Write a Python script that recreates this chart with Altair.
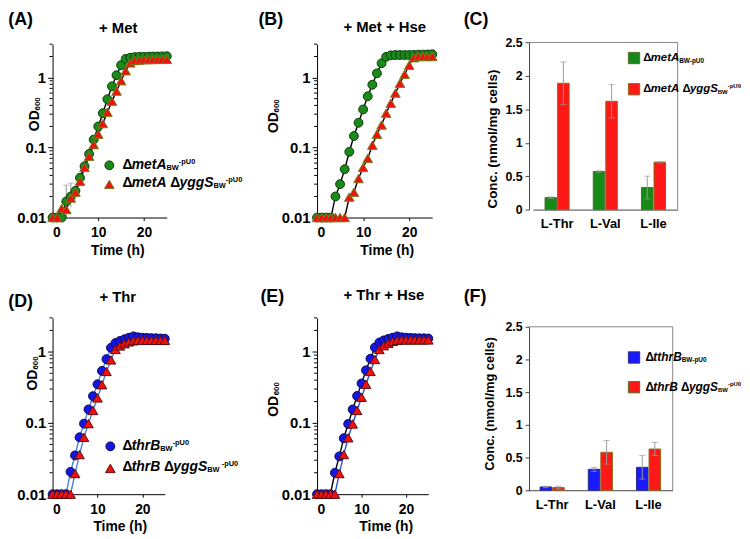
import altair as alt
import pandas as pd

FONT = "Liberation Sans"

# ---------------- data ----------------
hours = [0, 1, 2, 3, 4, 5, 6, 7, 8, 9, 10, 11, 12, 13, 14, 15, 16, 17, 18, 19, 20, 21, 22, 23, 24, 25]

A_metA = [0.010, 0.010, 0.010, 0.017, 0.020, 0.024, 0.037, 0.054, 0.081, 0.13, 0.20, 0.31, 0.49,
          0.75, 1.08, 1.50, 1.85, 1.92, 1.96, 1.98, 1.98, 1.99, 2.00, 2.00, 2.01, 2.02]
A_metA_yggS = [0.010, 0.010, 0.0135, 0.013, 0.019, 0.023, 0.033, 0.052, 0.075, 0.11, 0.155, 0.22, 0.32,
               0.46, 0.64, 0.90, 1.25, 1.62, 1.75, 1.78, 1.80, 1.81, 1.81, 1.82, 1.82, 1.82]
A_err_hours = [3, 4]
A_err_lo = [0.010, 0.014]
A_err_hi = [0.029, 0.031]

B_metA = [0.010, 0.010, 0.010, 0.010, 0.020, 0.030, 0.049, 0.087, 0.146, 0.226, 0.35, 0.54, 0.79,
          1.15, 1.60, 1.98, 2.08, 2.10, 2.10, 2.10, 2.10, 2.11, 2.12, 2.13, 2.14, 2.15]
B_metA_yggS = [0.010, 0.010, 0.010, 0.010, 0.010, 0.010, 0.010, 0.0196, 0.023, 0.036, 0.052, 0.070, 0.108,
               0.155, 0.21, 0.31, 0.43, 0.60, 0.83, 1.11, 1.50, 1.92, 2.00, 2.00, 2.00, 2.00]

D_thrB = [0.010, 0.010, 0.010, 0.010, 0.0206, 0.035, 0.063, 0.098, 0.155, 0.238, 0.35, 0.54, 0.79,
          1.14, 1.33, 1.42, 1.50, 1.58, 1.65, 1.60, 1.58, 1.57, 1.56, 1.55, 1.54, 1.53]
D_thrB_yggS = [0.010, 0.010, 0.010, 0.010, 0.010, 0.0195, 0.036, 0.063, 0.098, 0.150, 0.225, 0.345, 0.53,
               0.77, 1.08, 1.21, 1.30, 1.38, 1.43, 1.45, 1.45, 1.45, 1.45, 1.45, 1.45, 1.45]

E_thrB = [0.010, 0.010, 0.010, 0.010, 0.020, 0.034, 0.061, 0.097, 0.155, 0.24, 0.36, 0.55, 0.80,
          1.15, 1.35, 1.45, 1.52, 1.58, 1.65, 1.60, 1.58, 1.57, 1.56, 1.55, 1.55, 1.54]
E_thrB_yggS = [0.010, 0.010, 0.010, 0.010, 0.010, 0.0195, 0.036, 0.062, 0.097, 0.150, 0.23, 0.35, 0.53,
               0.78, 1.08, 1.22, 1.32, 1.40, 1.45, 1.47, 1.47, 1.47, 1.47, 1.47, 1.47, 1.47]

amino_acids = ["L-Thr", "L-Val", "L-Ile"]
C_metA = [0.18, 0.57, 0.33]
C_metA_err = [0.01, 0.01, 0.17]
C_metA_yggS = [1.89, 1.62, 0.71]
C_metA_yggS_err = [0.32, 0.25, 0.01]
F_thrB = [0.05, 0.32, 0.35]
F_thrB_err = [0.01, 0.03, 0.18]
F_thrB_yggS = [0.04, 0.58, 0.63]
F_thrB_yggS_err = [0.02, 0.18, 0.10]

log_major = [0.01, 0.1, 1]
log_minor = [0.02, 0.03, 0.04, 0.05, 0.06, 0.07, 0.08, 0.09,
             0.2, 0.3, 0.4, 0.5, 0.6, 0.7, 0.8, 0.9, 2, 3]
conc_ticks = [0, 0.5, 1, 1.5, 2, 2.5]

# ---------------- colours ----------------
GREEN, GREEN_EDGE = "#1a8a1a", "#0b3b0b"
RED, RED_EDGE_A, RED_EDGE_D = "#f01010", "#7a7a1a", "#5a1010"
BLUE, BLUE_EDGE = "#1515e6", "#0a0a55"
LINE_D = "#4a80dc"
BAR_GREEN, BAR_GREEN_EDGE = "#168a16", "#556b2f"
BAR_RED, BAR_RED_EDGE = "#ff1818", "#8b6914"
BAR_BLUE, BAR_BLUE_EDGE = "#1a1aff", "#2a2a8a"

# Arial/Liberation bold advance widths (per 1000 em)
W = {' ': 278, '(': 333, ')': 333, '+': 584, '-': 333, '.': 278, '/': 278, '0': 556, '6': 556,
     'A': 722, 'B': 722, 'D': 722, 'S': 667, 'U': 722, 'W': 944, 'e': 556, 'g': 611, 'h': 611,
     'm': 889, 'p': 611, 'r': 389, 't': 333, 'y': 556, 'Δ': 667}


def tw(s, size):
    return sum(W.get(c, 556) for c in s) * size / 1000.0


def txt(s, x, y, size=14, italic=False, align="left", baseline="middle", angle=0, color="black"):
    kw = dict(align=align, baseline=baseline, fontSize=size, fontWeight="bold",
              fontStyle="italic" if italic else "normal", font=FONT, color=color)
    if angle:
        kw["angle"] = angle
    return alt.Chart(pd.DataFrame({"t": [s]})).mark_text(**kw).encode(
        x=alt.value(x), y=alt.value(y), text="t:N")


def rich(pieces, x, y):
    out = []
    for s, size, italic, dy in pieces:
        stripped = s.lstrip(" ")
        x += tw(s[: len(s) - len(stripped)], size)
        out.append(txt(stripped, x, y + dy, size=size, italic=italic))
        x += tw(stripped, size)
    return out


def marker(shape, x, y, fill, stroke, size):
    return alt.Chart(pd.DataFrame({"k": [0]})).mark_point(
        shape=shape, filled=True, fill=fill, stroke=stroke, strokeWidth=1, size=size, opacity=1
    ).encode(x=alt.value(x), y=alt.value(y))


def square(x, y, fill, stroke):
    return alt.Chart(pd.DataFrame({"k": [0]})).mark_square(
        fill=fill, stroke=stroke, strokeWidth=1, size=130, opacity=1
    ).encode(x=alt.value(x), y=alt.value(y))


def growth(s1, s2, xr, w, h, st1, st2, annots, err=None):
    xs = alt.Scale(domain=[0, 25], range=xr, nice=False, zero=False)
    ys = alt.Scale(type="log", domain=[0.01, 3], nice=False)
    xaxis = alt.Axis(values=[0, 10, 20], title=None, labelFont=FONT, labelFontSize=14,
                     labelFontWeight="bold", labelColor="black", domainColor="black",
                     tickColor="black", tickSize=3, labelPadding=5, grid=False)
    yaxis = alt.Axis(values=log_major, format="~g", title=None, labelFont=FONT, labelFontSize=15,
                     labelFontWeight="bold", labelColor="black", domainColor="black",
                     tickColor="black", tickSize=5, labelPadding=2, grid=False)
    X = alt.X("t:Q", scale=xs, axis=xaxis)
    Y = alt.Y("od:Q", scale=ys, axis=yaxis)
    d1 = pd.DataFrame({"t": hours, "od": s1})
    d2 = pd.DataFrame({"t": hours, "od": s2})
    layers = [
        alt.Chart(d1).mark_line(color=st1["line"], strokeWidth=1.4).encode(X, Y),
        alt.Chart(d2).mark_line(color=st2["line"], strokeWidth=1.4).encode(X, Y),
    ]
    if err is not None:
        de = pd.DataFrame({"t": err[0], "lo": err[1], "hi": err[2]})
        layers.append(alt.Chart(de).mark_rule(color="#9a9a9a").encode(
            x=alt.X("t:Q", scale=xs, axis=xaxis), y=alt.Y("lo:Q", scale=ys, axis=yaxis), y2="hi:Q"))
        layers.append(alt.Chart(de).mark_tick(color="#9a9a9a", thickness=1, size=6, orient="horizontal").encode(
            x=alt.X("t:Q", scale=xs, axis=xaxis), y=alt.Y("hi:Q", scale=ys, axis=yaxis)))
    layers += [
        alt.Chart(d1).mark_point(shape="circle", filled=True, fill=st1["fill"], stroke=st1["edge"],
                                 strokeWidth=1, size=80, opacity=1).encode(X, Y),
        alt.Chart(d2).mark_point(shape="triangle-up", filled=True, fill=st2["fill"], stroke=st2["edge"],
                                 strokeWidth=1, size=95, opacity=1).encode(X, Y),
        alt.Chart(pd.DataFrame({"v": log_minor})).mark_rule(color="black", strokeWidth=1).encode(
            x=alt.value(-3), x2=alt.value(0), y=alt.Y("v:Q", scale=ys, axis=yaxis)),
    ]
    layers += annots
    return alt.layer(*layers).properties(width=w, height=h)


def conc(v1, e1, v2, e2, fills, edges, w, h, yr, xr, annots):
    names = ["s1", "s2"]
    df = pd.DataFrame({"aa": amino_acids + amino_acids,
                       "strain": ["s1"] * 3 + ["s2"] * 3,
                       "v": v1 + v2, "e": e1 + e2})
    df["lo"] = df["v"] - df["e"]
    df["hi"] = df["v"] + df["e"]
    bx = alt.Axis(title=None, labelAngle=0, ticks=False, labelFont=FONT, labelFontSize=13,
                  labelFontWeight="bold", labelColor="black", labelPadding=8, domainColor="#444444", grid=False)
    by = alt.Axis(title=None, values=conc_ticks, format="~g", tickSize=4, labelFont=FONT, labelFontSize=12.5,
                  labelFontWeight="bold", labelColor="black", domainColor="#444444", tickColor="#444444",
                  labelPadding=3, grid=False)
    X = alt.X("aa:N", sort=amino_acids, scale=alt.Scale(range=xr, paddingInner=0.5, paddingOuter=0.25), axis=bx)
    XO = alt.XOffset("strain:N", sort=names, scale=alt.Scale(paddingInner=0.08, paddingOuter=0))
    ys = alt.Scale(domain=[0, 2.5], range=yr, nice=False)
    layers = [
        alt.Chart(pd.DataFrame({"k": [0]})).mark_rule(color="#888888").encode(
            x=alt.value(0), x2=alt.value(w), y=alt.value(yr[1])),
        alt.Chart(pd.DataFrame({"k": [0]})).mark_rule(color="#888888").encode(
            x=alt.value(w), y=alt.value(yr[1]), y2=alt.value(yr[0])),
        alt.Chart(df).mark_bar(strokeWidth=1).encode(
            X, XO, y=alt.Y("v:Q", scale=ys, axis=by),
            fill=alt.Fill("strain:N", scale=alt.Scale(domain=names, range=fills), legend=None),
            stroke=alt.Stroke("strain:N", scale=alt.Scale(domain=names, range=edges), legend=None)),
        alt.Chart(df).mark_rule(color="#9a9a9a").encode(X, XO, y=alt.Y("lo:Q", scale=ys, axis=by), y2="hi:Q"),
        alt.Chart(df).mark_tick(color="#9a9a9a", thickness=1, size=6, orient="horizontal").encode(
            X, XO, y=alt.Y("hi:Q", scale=ys, axis=by)),
        alt.Chart(df).mark_tick(color="#9a9a9a", thickness=1, size=6, orient="horizontal").encode(
            X, XO, y=alt.Y("lo:Q", scale=ys, axis=by)),
    ]
    layers += annots
    return alt.layer(*layers).properties(width=w, height=h)


SUB, SUP = 3, -3

# ---------------- panel A (origin 52.7, 41.7) ----------------
stA1 = {"line": "black", "fill": GREEN, "edge": GREEN_EDGE}
stA2 = {"line": "black", "fill": RED, "edge": RED_EDGE_A}
annA = [
    txt("(A)", -44.7, -33.7, size=18, baseline="top"),
    txt("+ Met", 66.3, -16.7, size=15, align="center"),
    txt("OD", -17.2, 77.3, size=14, align="center", angle=270),
    txt("600", -14.2, 60.3, size=8, align="center", angle=270),
    txt("Time (h)", 65.8, 208.5, size=14, align="center"),
    marker("circle", 57.3, 122.3, GREEN, GREEN_EDGE, 80),
    marker("triangle-up", 57.3, 141.6, RED, RED_EDGE_A, 95),
] + rich([("Δ", 14, False, 0), ("metA", 14, True, 0), ("BW", 7.5, False, SUB), ("-pU0", 7.5, False, SUP)],
         70.6, 122.3) \
  + rich([("Δ", 14, False, 0), ("metA", 14, True, 0), (" Δ", 14, False, 0), ("yggS", 14, True, 0),
          ("BW", 7.5, False, SUB), ("-pU0", 7.5, False, SUP)], 70.6, 140.5)
panelA = growth(A_metA, A_metA_yggS, [0, 115.3], 169.5, 175, stA1, stA2, annA,
                err=(A_err_hours, A_err_lo, A_err_hi))

# ---------------- panel B (origin 319.2, 41.7) ----------------
annB = [
    txt("(B)", -59.2, -33.7, size=18, baseline="top"),
    txt("+ Met + Hse", 68.3, -17.7, size=15, align="center"),
    txt("OD", -43.4, 79.3, size=14, align="center", angle=270),
    txt("600", -40.4, 62.3, size=8, align="center", angle=270),
    txt("Time (h)", 70.8, 208.5, size=14, align="center"),
]
panelB = growth(B_metA, B_metA_yggS, [0, 116.3], 116.8, 175, stA1, stA2, annB)

# ---------------- panel C (origin 533, 41.7) ----------------
annC = [
    txt("(C)", -66, -33.7, size=18, baseline="top"),
    txt("Conc. (nmol/mg cells)", -36, 95.8, size=13.5, align="center", angle=270),
    square(106, 14, BAR_GREEN, BAR_GREEN_EDGE),
    square(106, 45.5, BAR_RED, BAR_RED_EDGE),
] + rich([("Δ", 11.5, False, 0), ("metA", 11.5, True, 0), ("BW-pU0", 6.5, False, SUB)], 115.2, 14) \
  + rich([("Δ", 11.5, False, 0), ("metA", 11.5, True, 0), (" Δ", 11.5, False, 0), ("yggS", 11.5, True, 0),
          ("BW", 6, False, SUB), ("-pU0", 6, False, SUP)], 115.2, 45.5)
panelC = conc(C_metA, C_metA_err, C_metA_yggS, C_metA_yggS_err, [BAR_GREEN, BAR_RED],
              [BAR_GREEN_EDGE, BAR_RED_EDGE], 150, 167, [167, -1.7], [4, 150], annC)

# ---------------- panel D (origin 52.7, 318) ----------------
stD1 = {"line": LINE_D, "fill": BLUE, "edge": BLUE_EDGE}
stD2 = {"line": LINE_D, "fill": RED, "edge": RED_EDGE_D}
annD = [
    txt("(D)", -44.7, -25, size=18, baseline="top"),
    txt("+ Thr", 65.8, -21, size=15, align="center"),
    txt("OD", -19.4, 62.8, size=14, align="center", angle=270),
    txt("600", -16.4, 45.5, size=8, align="center", angle=270),
    txt("Time (h)", 68.3, 211.5, size=14, align="center"),
    marker("circle", 58.3, 129.7, BLUE, BLUE_EDGE, 80),
    marker("triangle-up", 58.3, 152, RED, RED_EDGE_D, 95),
] + rich([("Δ", 14, False, 0), ("thrB", 14, True, 0), ("BW", 7.5, False, SUB), ("-pU0", 7.5, False, SUP)],
         70.6, 129.7) \
  + rich([("Δ", 14, False, 0), ("thrB", 14, True, 0), (" Δ", 14, False, 0), ("yggS", 14, True, 0),
          ("BW", 7.5, False, SUB), (" -pU0", 7.5, False, SUP)], 70.6, 151)
panelD = growth(D_thrB, D_thrB_yggS, [0, 113.3], 169.5, 178, stD1, stD2, annD)

# ---------------- panel E (origin 319.2, 318) ----------------
stE1 = {"line": "black", "fill": BLUE, "edge": BLUE_EDGE}
stE2 = {"line": "#2a52d0", "fill": RED, "edge": RED_EDGE_D}
annE = [
    txt("(E)", -57.2, -30, size=18, baseline="top"),
    txt("+ Thr + Hse", 67.5, -23, size=15, align="center"),
    txt("OD", -43.4, 89.3, size=14, align="center", angle=270),
    txt("600", -40.4, 71.5, size=8, align="center", angle=270),
    txt("Time (h)", 69.8, 211.5, size=14, align="center"),
]
panelE = growth(E_thrB, E_thrB_yggS, [0, 112.3], 116.8, 178, stE1, stE2, annE)

# ---------------- panel F (origin 533, 318) ----------------
annF = [
    txt("(F)", -66, -30, size=18, baseline="top"),
    txt("Conc. (nmol/mg cells)", -39, 87, size=13, align="center", angle=270),
    square(106, 40, BAR_BLUE, BAR_BLUE_EDGE),
    square(106, 70, BAR_RED, BAR_GREEN_EDGE),
] + rich([("Δ", 12, False, 0), ("tthrB", 12, True, 0), ("BW-pU0", 6.5, False, SUB)], 117.5, 40) \
  + rich([("Δ", 12, False, 0), ("thrB", 12, True, 0), (" Δ", 12, False, 0), ("yggS", 12, True, 0),
          ("BW", 6, False, SUB), ("-pU0", 6, False, SUP)], 117.5, 70)
panelF = conc(F_thrB, F_thrB_err, F_thrB_yggS, F_thrB_yggS_err, [BAR_BLUE, BAR_RED],
              [BAR_BLUE_EDGE, BAR_RED_EDGE], 145, 174, [174, 9], [-1, 145], annF)

chart = alt.concat(
    panelA, panelB, panelC, panelD, panelE, panelF,
    columns=3, spacing={"row": 101.3, "column": 97}, bounds="flush", align="each",
).resolve_scale(fill="independent", stroke="independent").properties(
    padding=0, background="white"
).configure(font=FONT).configure_view(strokeWidth=0)

chart.save("out.html", embed_options={"renderer": "svg", "actions": False})
